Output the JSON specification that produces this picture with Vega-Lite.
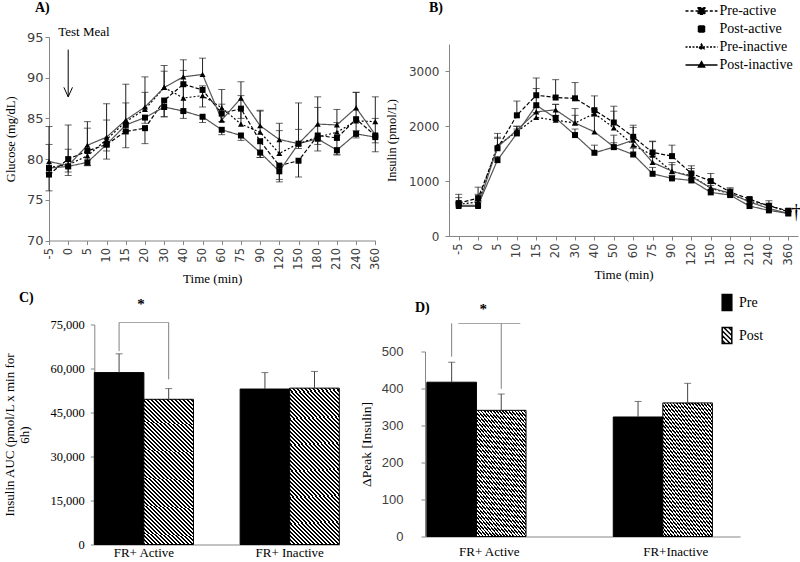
{
"$schema": "https://vega.github.io/schema/vega-lite/v6.json",
"padding": {"left": 3, "top": 0, "right": 0, "bottom": 0},
"background": "white",
"config": {
  "view": {"stroke": null},
  "font": "Liberation Serif",
  "axis": {"grid": false, "domainColor": "#868686", "tickColor": "#868686", "labelColor": "#404040", "titleColor": "#000", "titleFontWeight": "normal", "titleFont": "Liberation Serif", "tickSize": 4, "labelOverlap": false},
  "title": {"font": "Liberation Serif", "fontSize": 14, "fontWeight": "bold", "anchor": "start", "frame": "group", "color": "#000"}
},
"datasets": {
  "glucose": [
    {"t":-5,"s":"Pre-active","v":78.1,"c":76.1},{"t":0,"s":"Pre-active","v":80.0,"c":78.0},{"t":5,"s":"Pre-active","v":81.0,"c":79.2},{"t":10,"s":"Pre-active","v":81.8,"c":80.0},{"t":15,"s":"Pre-active","v":83.4,"c":81.4},{"t":20,"s":"Pre-active","v":83.8,"c":81.9},{"t":30,"s":"Pre-active","v":87.2,"c":85.2},{"t":40,"s":"Pre-active","v":89.2,"c":85.8},{"t":50,"s":"Pre-active","v":88.5,"c":86.4},{"t":60,"s":"Pre-active","v":85.6,"c":84.6},{"t":75,"s":"Pre-active","v":86.2,"c":85.0},{"t":90,"s":"Pre-active","v":82.2,"c":80.2},{"t":120,"s":"Pre-active","v":79.2,"c":77.2},{"t":150,"s":"Pre-active","v":79.8,"c":77.8},{"t":180,"s":"Pre-active","v":82.9,"c":81.0},{"t":210,"s":"Pre-active","v":82.6,"c":80.6},{"t":240,"s":"Pre-active","v":84.9,"c":83.5},{"t":360,"s":"Pre-active","v":82.9,"c":80.9},
    {"t":-5,"s":"Post-active","v":78.9,"c":78.3},{"t":0,"s":"Post-active","v":79.1,"c":78.4},{"t":5,"s":"Post-active","v":79.6,"c":79.2},{"t":10,"s":"Post-active","v":81.8,"c":81.0},{"t":15,"s":"Post-active","v":84.2,"c":83.4},{"t":20,"s":"Post-active","v":85.1,"c":84.4},{"t":30,"s":"Post-active","v":86.4,"c":85.2},{"t":40,"s":"Post-active","v":85.9,"c":85.0},{"t":50,"s":"Post-active","v":85.2,"c":84.5},{"t":60,"s":"Post-active","v":83.6,"c":83.0},{"t":75,"s":"Post-active","v":82.9,"c":82.3},{"t":90,"s":"Post-active","v":80.8,"c":80.2},{"t":120,"s":"Post-active","v":78.5,"c":77.5},{"t":150,"s":"Post-active","v":81.9,"c":81.3},{"t":180,"s":"Post-active","v":82.5,"c":81.8},{"t":210,"s":"Post-active","v":81.1,"c":80.5},{"t":240,"s":"Post-active","v":83.1,"c":82.6},{"t":360,"s":"Post-active","v":82.7,"c":82.0},
    {"t":-5,"s":"Pre-inactive","v":79.0,"c":81.8},{"t":0,"s":"Pre-inactive","v":79.3,"c":81.2},{"t":5,"s":"Pre-inactive","v":80.4,"c":83.8},{"t":10,"s":"Pre-inactive","v":82.4,"c":84.8},{"t":15,"s":"Pre-inactive","v":84.6,"c":86.9},{"t":20,"s":"Pre-inactive","v":86.1,"c":88.2},{"t":30,"s":"Pre-inactive","v":88.8,"c":90.8},{"t":40,"s":"Pre-inactive","v":87.5,"c":90.9},{"t":50,"s":"Pre-inactive","v":87.8,"c":89.0},{"t":60,"s":"Pre-inactive","v":86.3,"c":88.55},{"t":75,"s":"Pre-inactive","v":84.3,"c":87.8},{"t":90,"s":"Pre-inactive","v":83.3,"c":85.9},{"t":120,"s":"Pre-inactive","v":80.7,"c":83.5},{"t":150,"s":"Pre-inactive","v":81.9,"c":83.65},{"t":180,"s":"Pre-inactive","v":82.7,"c":86.35},{"t":210,"s":"Pre-inactive","v":83.3,"c":84.5},{"t":240,"s":"Pre-inactive","v":84.7,"c":88.2},{"t":360,"s":"Pre-inactive","v":84.6,"c":85.0},
    {"t":-5,"s":"Post-inactive","v":79.7,"c":84.0},{"t":0,"s":"Post-inactive","v":79.2,"c":84.2},{"t":5,"s":"Post-inactive","v":81.7,"c":84.6},{"t":10,"s":"Post-inactive","v":82.7,"c":86.8},{"t":15,"s":"Post-inactive","v":84.8,"c":89.2},{"t":20,"s":"Post-inactive","v":86.4,"c":90.1},{"t":30,"s":"Post-inactive","v":88.8,"c":91.5},{"t":40,"s":"Post-inactive","v":90.1,"c":92.2},{"t":50,"s":"Post-inactive","v":90.4,"c":92.4},{"t":60,"s":"Post-inactive","v":84.8,"c":86.75},{"t":75,"s":"Post-inactive","v":87.5,"c":89.5},{"t":90,"s":"Post-inactive","v":84.1,"c":86.0},{"t":120,"s":"Post-inactive","v":82.4,"c":84.4},{"t":150,"s":"Post-inactive","v":81.9,"c":86.9},{"t":180,"s":"Post-inactive","v":84.3,"c":87.65},{"t":210,"s":"Post-inactive","v":84.2,"c":86.1},{"t":240,"s":"Post-inactive","v":86.3,"c":88.2},{"t":360,"s":"Post-inactive","v":83.0,"c":87.65}
  ],
  "insulin": [
    {"t":-5,"s":"Pre-active","v":600,"c":760},{"t":0,"s":"Pre-active","v":690,"c":890},{"t":5,"s":"Pre-active","v":1600,"c":1870},{"t":10,"s":"Pre-active","v":2200,"c":2460},{"t":15,"s":"Pre-active","v":2566,"c":2880},{"t":20,"s":"Pre-active","v":2524,"c":2850},{"t":30,"s":"Pre-active","v":2510,"c":2797},{"t":40,"s":"Pre-active","v":2293,"c":2554},{"t":50,"s":"Pre-active","v":2069,"c":2366},{"t":60,"s":"Pre-active","v":1808,"c":2020},{"t":75,"s":"Pre-active","v":1523,"c":1729},{"t":90,"s":"Pre-active","v":1456,"c":1656},{"t":120,"s":"Pre-active","v":1140,"c":1280},{"t":150,"s":"Pre-active","v":1001,"c":1140},{"t":180,"s":"Pre-active","v":800,"c":880},{"t":210,"s":"Pre-active","v":673,"c":700},{"t":240,"s":"Pre-active","v":546,"c":643},{"t":360,"s":"Pre-active","v":461,"c":500},
    {"t":-5,"s":"Post-active","v":560,"c":600},{"t":0,"s":"Post-active","v":560,"c":620},{"t":5,"s":"Post-active","v":1383,"c":1450},{"t":10,"s":"Post-active","v":1870,"c":1950},{"t":15,"s":"Post-active","v":2384,"c":2688},{"t":20,"s":"Post-active","v":2150,"c":2400},{"t":30,"s":"Post-active","v":1840,"c":1950},{"t":40,"s":"Post-active","v":1517,"c":1656},{"t":50,"s":"Post-active","v":1620,"c":1838},{"t":60,"s":"Post-active","v":1486,"c":1600},{"t":75,"s":"Post-active","v":1134,"c":1250},{"t":90,"s":"Post-active","v":1050,"c":1100},{"t":120,"s":"Post-active","v":1013,"c":1050},{"t":150,"s":"Post-active","v":795,"c":850},{"t":180,"s":"Post-active","v":746,"c":800},{"t":210,"s":"Post-active","v":546,"c":600},{"t":240,"s":"Post-active","v":467,"c":520},{"t":360,"s":"Post-active","v":410,"c":450},
    {"t":-5,"s":"Pre-inactive","v":580,"c":700},{"t":0,"s":"Pre-inactive","v":620,"c":760},{"t":5,"s":"Pre-inactive","v":1650,"c":1800},{"t":10,"s":"Pre-inactive","v":1900,"c":2000},{"t":15,"s":"Pre-inactive","v":2160,"c":2250},{"t":20,"s":"Pre-inactive","v":2111,"c":2200},{"t":30,"s":"Pre-inactive","v":2060,"c":2200},{"t":40,"s":"Pre-inactive","v":2233,"c":2300},{"t":50,"s":"Pre-inactive","v":1972,"c":2275},{"t":60,"s":"Pre-inactive","v":1656,"c":1980},{"t":75,"s":"Pre-inactive","v":1474,"c":1720},{"t":90,"s":"Pre-inactive","v":1171,"c":1340},{"t":120,"s":"Pre-inactive","v":1100,"c":1230},{"t":150,"s":"Pre-inactive","v":870,"c":960},{"t":180,"s":"Pre-inactive","v":770,"c":860},{"t":210,"s":"Pre-inactive","v":630,"c":680},{"t":240,"s":"Pre-inactive","v":560,"c":600},{"t":360,"s":"Pre-inactive","v":440,"c":480},
    {"t":-5,"s":"Post-inactive","v":540,"c":620},{"t":0,"s":"Post-inactive","v":540,"c":640},{"t":5,"s":"Post-inactive","v":1620,"c":1780},{"t":10,"s":"Post-inactive","v":1930,"c":2000},{"t":15,"s":"Post-inactive","v":2263,"c":2350},{"t":20,"s":"Post-inactive","v":2300,"c":2400},{"t":30,"s":"Post-inactive","v":2060,"c":2323},{"t":40,"s":"Post-inactive","v":1899,"c":2180},{"t":50,"s":"Post-inactive","v":1626,"c":1700},{"t":60,"s":"Post-inactive","v":1747,"c":1800},{"t":75,"s":"Post-inactive","v":1341,"c":1450},{"t":90,"s":"Post-inactive","v":1183,"c":1300},{"t":120,"s":"Post-inactive","v":1080,"c":1150},{"t":150,"s":"Post-inactive","v":880,"c":920},{"t":180,"s":"Post-inactive","v":780,"c":840},{"t":210,"s":"Post-inactive","v":620,"c":660},{"t":240,"s":"Post-inactive","v":500,"c":560},{"t":360,"s":"Post-inactive","v":412,"c":450}
  ],
  "meal": [{"t":0,"top":93.45,"tip":87.65,"lab":"Test Meal","ly":95.1}],
  "dagger": [{"t":360,"y":430,"lab":"†"}],
  "auc": [
    {"g":"FR+ Active","p":"Pre","v":58600,"e":65000},
    {"g":"FR+ Active","p":"Post","v":49500,"e":53150},
    {"g":"FR+ Inactive","p":"Pre","v":53000,"e":58600},
    {"g":"FR+ Inactive","p":"Post","v":53300,"e":59000}
  ],
  "aucsig": [
    {"g":"FR+ Active","p":"Pre","lo":65900,"hi":75700,"sy":80300,"lab":"*"},
    {"g":"FR+ Active","p":"Post","lo":56300,"hi":75700,"sy":80300,"lab":"*"}
  ],
  "peak": [
    {"g":"FR+ Active","p":"Pre","v":417,"e":471},
    {"g":"FR+ Active","p":"Post","v":341,"e":385},
    {"g":"FR+Inactive","p":"Pre","v":323,"e":365},
    {"g":"FR+Inactive","p":"Post","v":361,"e":414}
  ],
  "peaksig": [
    {"g":"FR+ Active","p":"Pre","lo":486,"hi":576,"sy":601,"lab":"*"},
    {"g":"FR+ Active","p":"Post","lo":399,"hi":576,"sy":601,"lab":"*"}
  ]
},
"columns": 2,
"bounds": "flush",
"spacing": {"row": 83.5, "column": 49},
"resolve": {"scale": {"color": "independent", "fill": "independent", "shape": "independent", "strokeDash": "independent", "size": "independent"}},
"concat": [
  {
   "title": {"text": "A)", "dx": -14, "offset": 11},
   "width": 326.3, "height": 203.5,
   "layer": [
    {"data": {"name": "glucose"}, "mark": {"type": "rule", "color": "#222", "strokeWidth": 1},
     "encoding": {
       "x": {"field": "t", "type": "ordinal", "scale": {"type": "point", "padding": 0, "domain": [-5,0,5,10,15,20,30,40,50,60,75,90,120,150,180,210,240,360]},
             "axis": {"title": "Time  (min)", "labelAngle": -90, "labelFont": "DejaVu Sans", "labelFontSize": 11.5, "labelPadding": 3, "titleFontSize": 13, "titlePadding": 3}},
       "y": {"field": "v", "type": "quantitative", "scale": {"domain": [70, 95], "nice": false},
             "axis": {"title": "Glucose  (mg/dL)", "values": [70,75,80,85,90,95], "format": "d", "labelFont": "DejaVu Sans", "labelFontSize": 13, "labelPadding": 2, "titleFontSize": 12.5, "titlePadding": 9}},
       "y2": {"field": "c"}}},
    {"data": {"name": "glucose"}, "mark": {"type": "tick", "color": "#222", "size": 7, "thickness": 1, "orient": "horizontal"},
     "encoding": {"x": {"field": "t", "type": "ordinal"}, "y": {"field": "c", "type": "quantitative", "scale": {"domain": [70, 95], "nice": false}}}},
    {"data": {"name": "glucose"}, "mark": {"type": "line", "strokeWidth": 1.2},
     "encoding": {"x": {"field": "t", "type": "ordinal"}, "y": {"field": "v", "type": "quantitative", "scale": {"domain": [70, 95], "nice": false}},
       "color": {"field": "s", "type": "nominal", "scale": {"domain": ["Pre-active","Post-active","Pre-inactive","Post-inactive"], "range": ["#000","#555","#000","#555"]}, "legend": null},
       "strokeDash": {"field": "s", "type": "nominal", "scale": {"domain": ["Pre-active","Post-active","Pre-inactive","Post-inactive"], "range": [[4,2],[1,0],[2,2],[1,0]]}, "legend": null}}},
    {"data": {"name": "glucose"}, "mark": {"type": "point", "filled": true, "color": "#000", "opacity": 1},
     "encoding": {"x": {"field": "t", "type": "ordinal"}, "y": {"field": "v", "type": "quantitative", "scale": {"domain": [70, 95], "nice": false}},
       "shape": {"field": "s", "type": "nominal", "scale": {"domain": ["Pre-active","Post-active","Pre-inactive","Post-inactive"], "range": ["square","square","triangle-up","triangle-up"]}, "legend": null},
       "size": {"field": "s", "type": "nominal", "scale": {"domain": ["Pre-active","Post-active","Pre-inactive","Post-inactive"], "range": [36,36,16,30]}, "legend": null}}},
    {"data": {"name": "meal"}, "mark": {"type": "rule", "color": "#000", "strokeWidth": 1},
     "encoding": {"x": {"field": "t", "type": "ordinal"}, "y": {"field": "top", "type": "quantitative", "scale": {"domain": [70, 95], "nice": false}}, "y2": {"field": "tip"}}},
    {"data": {"name": "meal"}, "mark": {"type": "point", "shape": "M-1,-2.2L0,0L1,-2.2", "size": 74, "filled": false, "stroke": "#000", "strokeWidth": 1, "opacity": 1},
     "encoding": {"x": {"field": "t", "type": "ordinal"}, "y": {"field": "tip", "type": "quantitative", "scale": {"domain": [70, 95], "nice": false}}}},
    {"data": {"name": "meal"}, "mark": {"type": "text", "align": "left", "baseline": "alphabetic", "dx": -10, "fontSize": 13, "font": "Liberation Serif", "color": "#000"},
     "encoding": {"x": {"field": "t", "type": "ordinal"}, "y": {"field": "ly", "type": "quantitative", "scale": {"domain": [70, 95], "nice": false}}, "text": {"field": "lab"}}}
   ]
  },
  {
   "title": {"text": "B)", "dx": 4, "offset": -15},
   "width": 373, "height": 199,
   "layer": [
    {"data": {"name": "insulin"}, "mark": {"type": "rule", "color": "#222", "strokeWidth": 1},
     "encoding": {
       "x": {"field": "t", "type": "ordinal", "scale": {"type": "point", "padding": 0.5, "rangeMin": 24, "domain": [-5,0,5,10,15,20,30,40,50,60,75,90,120,150,180,210,240,360]},
             "axis": {"title": "Time  (min)", "labelAngle": -90, "labelFont": "DejaVu Sans", "labelFontSize": 11.5, "labelPadding": 3, "titleFontSize": 13, "titlePadding": 4}},
       "y": {"field": "v", "type": "quantitative", "scale": {"domain": [0, 3500], "nice": false, "rangeMax": 7},
             "axis": {"title": "Insulin  (pmol/L)", "offset": -24, "values": [0,500,1000,1500,2000,2500,3000,3500], "format": "d", "labelFont": "DejaVu Sans", "labelFontSize": 12, "labelPadding": 6, "titleFontSize": 12.5, "titlePadding": 10}},
       "y2": {"field": "c"}}},
    {"data": {"name": "insulin"}, "mark": {"type": "tick", "color": "#222", "size": 7, "thickness": 1, "orient": "horizontal"},
     "encoding": {"x": {"field": "t", "type": "ordinal"}, "y": {"field": "c", "type": "quantitative", "scale": {"domain": [0, 3500], "nice": false}}}},
    {"data": {"name": "insulin"}, "mark": {"type": "line", "strokeWidth": 1.2},
     "encoding": {"x": {"field": "t", "type": "ordinal"}, "y": {"field": "v", "type": "quantitative", "scale": {"domain": [0, 3500], "nice": false}},
       "color": {"field": "s", "type": "nominal", "scale": {"domain": ["Pre-active","Post-active","Pre-inactive","Post-inactive"], "range": ["#000","#555","#000","#555"]}, "legend": null},
       "strokeDash": {"field": "s", "type": "nominal", "scale": {"domain": ["Pre-active","Post-active","Pre-inactive","Post-inactive"], "range": [[4,2],[1,0],[2,2],[1,0]]}, "legend": null}}},
    {"data": {"name": "insulin"}, "mark": {"type": "point", "filled": true, "color": "#000", "opacity": 1},
     "encoding": {"x": {"field": "t", "type": "ordinal"}, "y": {"field": "v", "type": "quantitative", "scale": {"domain": [0, 3500], "nice": false}},
       "shape": {"field": "s", "type": "nominal", "scale": {"domain": ["Pre-active","Post-active","Pre-inactive","Post-inactive"], "range": ["square","square","triangle-up","triangle-up"]}, "legend": null},
       "size": {"field": "s", "type": "nominal", "scale": {"domain": ["Pre-active","Post-active","Pre-inactive","Post-inactive"], "range": [36,36,16,30]}, "legend": null}}},
    {"data": {"name": "insulin"}, "transform": [{"filter": "false"}],
     "mark": {"type": "point", "filled": true, "fill": "#000", "stroke": "#000", "strokeWidth": 1, "size": 400, "opacity": 1},
     "encoding": {
       "shape": {"field": "s", "type": "nominal", "scale": {"domain": ["Pre-active","Post-active","Pre-inactive","Post-inactive"], "range": ["M-1.6,0H-0.33M0.33,0H1.6M-0.33,-0.33H0.33V0.33H-0.33Z", "M-0.3,-0.3H0.3V0.3H-0.3Z", "M-1.6,0H1.6M0,-0.28L0.25,0.17H-0.25Z", "M-1.6,0H1.6M0,-0.32L0.3,0.2H-0.3Z"]},
         "legend": {"orient": "none", "legendX": 265.5, "legendY": -37, "title": null, "padding": 0, "rowPadding": 0, "symbolSize": 400, "labelOffset": 7, "labelFont": "Liberation Serif", "labelFontSize": 14, "labelColor": "#000",
           "encode": {"symbols": {"update": {"fill": {"value": "#000"}, "stroke": {"value": "#000"}, "strokeWidth": {"value": 1}, "opacity": {"value": 1}}}}}},
       "strokeDash": {"field": "s", "type": "nominal", "scale": {"domain": ["Pre-active","Post-active","Pre-inactive","Post-inactive"], "range": [[3,2],[1,0],[2,1.5],[1,0]]},
         "legend": {"orient": "none", "legendX": 265.5, "legendY": -37, "title": null, "padding": 0, "rowPadding": 0, "symbolSize": 400, "labelOffset": 7, "labelFont": "Liberation Serif", "labelFontSize": 14, "labelColor": "#000"}}}},
    {"data": {"name": "dagger"}, "mark": {"type": "text", "dx": 8, "baseline": "middle", "fontSize": 20, "font": "Liberation Serif", "color": "#000"},
     "encoding": {"x": {"field": "t", "type": "ordinal"}, "y": {"field": "y", "type": "quantitative", "scale": {"domain": [0, 3500], "nice": false}}, "text": {"field": "lab"}}}
   ],
   "resolve": {"scale": {"shape": "independent", "strokeDash": "independent"}}
  },
  {
   "title": {"text": "C)", "dx": -30, "offset": -8},
   "width": 290.3, "height": 220,
   "layer": [
    {"data": {"name": "auc"}, "transform": [{"filter": "datum.p == 'Pre'"}],
     "mark": {"type": "bar", "fill": "#000", "stroke": "#000", "strokeWidth": 1},
     "encoding": {
       "x": {"field": "g", "type": "nominal", "scale": {"domain": ["FR+ Active","FR+ Inactive"], "paddingInner": 0.32, "paddingOuter": 0, "rangeMin": 45.3},
             "axis": {"title": null, "labelAngle": 0, "ticks": false, "labelFont": "Liberation Serif", "labelFontSize": 13, "labelColor": "#000", "labelPadding": 2}},
       "xOffset": {"field": "p", "type": "nominal", "scale": {"domain": ["Pre","Post"], "paddingInner": 0, "paddingOuter": 0}},
       "y": {"field": "v", "type": "quantitative", "scale": {"domain": [0, 75000], "nice": false},
             "axis": {"title": ["Insulin  AUC (pmol/L  x min for", "6h)"], "offset": -45.3, "values": [0,15000,30000,45000,60000,75000], "format": ",.0f", "labelFont": "Liberation Serif", "labelFontSize": 12.5, "labelColor": "#000", "labelPadding": 6, "titleFontSize": 13, "titleLineHeight": 15, "titlePadding": 18}}}},
    {"data": {"name": "auc"}, "transform": [{"filter": "datum.p == 'Post'"}],
     "mark": {"type": "bar", "stroke": "#000", "strokeWidth": 1, "fill": {"gradient": "linear", "x1": 0, "y1": 1, "x2": 0.396, "y2": -0.199, "stops": [
{"offset":0,"color":"#000"},{"offset":0.01,"color":"#000"},{"offset":0.01,"color":"#fff"},{"offset":0.02,"color":"#fff"},{"offset":0.02,"color":"#000"},{"offset":0.03,"color":"#000"},{"offset":0.03,"color":"#fff"},{"offset":0.04,"color":"#fff"},{"offset":0.04,"color":"#000"},{"offset":0.05,"color":"#000"},{"offset":0.05,"color":"#fff"},{"offset":0.06,"color":"#fff"},{"offset":0.06,"color":"#000"},{"offset":0.07,"color":"#000"},{"offset":0.07,"color":"#fff"},{"offset":0.08,"color":"#fff"},{"offset":0.08,"color":"#000"},{"offset":0.09,"color":"#000"},{"offset":0.09,"color":"#fff"},{"offset":0.1,"color":"#fff"},
{"offset":0.1,"color":"#000"},{"offset":0.11,"color":"#000"},{"offset":0.11,"color":"#fff"},{"offset":0.12,"color":"#fff"},{"offset":0.12,"color":"#000"},{"offset":0.13,"color":"#000"},{"offset":0.13,"color":"#fff"},{"offset":0.14,"color":"#fff"},{"offset":0.14,"color":"#000"},{"offset":0.15,"color":"#000"},{"offset":0.15,"color":"#fff"},{"offset":0.16,"color":"#fff"},{"offset":0.16,"color":"#000"},{"offset":0.17,"color":"#000"},{"offset":0.17,"color":"#fff"},{"offset":0.18,"color":"#fff"},{"offset":0.18,"color":"#000"},{"offset":0.19,"color":"#000"},{"offset":0.19,"color":"#fff"},{"offset":0.2,"color":"#fff"},
{"offset":0.2,"color":"#000"},{"offset":0.21,"color":"#000"},{"offset":0.21,"color":"#fff"},{"offset":0.22,"color":"#fff"},{"offset":0.22,"color":"#000"},{"offset":0.23,"color":"#000"},{"offset":0.23,"color":"#fff"},{"offset":0.24,"color":"#fff"},{"offset":0.24,"color":"#000"},{"offset":0.25,"color":"#000"},{"offset":0.25,"color":"#fff"},{"offset":0.26,"color":"#fff"},{"offset":0.26,"color":"#000"},{"offset":0.27,"color":"#000"},{"offset":0.27,"color":"#fff"},{"offset":0.28,"color":"#fff"},{"offset":0.28,"color":"#000"},{"offset":0.29,"color":"#000"},{"offset":0.29,"color":"#fff"},{"offset":0.3,"color":"#fff"},
{"offset":0.3,"color":"#000"},{"offset":0.31,"color":"#000"},{"offset":0.31,"color":"#fff"},{"offset":0.32,"color":"#fff"},{"offset":0.32,"color":"#000"},{"offset":0.33,"color":"#000"},{"offset":0.33,"color":"#fff"},{"offset":0.34,"color":"#fff"},{"offset":0.34,"color":"#000"},{"offset":0.35,"color":"#000"},{"offset":0.35,"color":"#fff"},{"offset":0.36,"color":"#fff"},{"offset":0.36,"color":"#000"},{"offset":0.37,"color":"#000"},{"offset":0.37,"color":"#fff"},{"offset":0.38,"color":"#fff"},{"offset":0.38,"color":"#000"},{"offset":0.39,"color":"#000"},{"offset":0.39,"color":"#fff"},{"offset":0.4,"color":"#fff"},
{"offset":0.4,"color":"#000"},{"offset":0.41,"color":"#000"},{"offset":0.41,"color":"#fff"},{"offset":0.42,"color":"#fff"},{"offset":0.42,"color":"#000"},{"offset":0.43,"color":"#000"},{"offset":0.43,"color":"#fff"},{"offset":0.44,"color":"#fff"},{"offset":0.44,"color":"#000"},{"offset":0.45,"color":"#000"},{"offset":0.45,"color":"#fff"},{"offset":0.46,"color":"#fff"},{"offset":0.46,"color":"#000"},{"offset":0.47,"color":"#000"},{"offset":0.47,"color":"#fff"},{"offset":0.48,"color":"#fff"},{"offset":0.48,"color":"#000"},{"offset":0.49,"color":"#000"},{"offset":0.49,"color":"#fff"},{"offset":0.5,"color":"#fff"},
{"offset":0.5,"color":"#000"},{"offset":0.51,"color":"#000"},{"offset":0.51,"color":"#fff"},{"offset":0.52,"color":"#fff"},{"offset":0.52,"color":"#000"},{"offset":0.53,"color":"#000"},{"offset":0.53,"color":"#fff"},{"offset":0.54,"color":"#fff"},{"offset":0.54,"color":"#000"},{"offset":0.55,"color":"#000"},{"offset":0.55,"color":"#fff"},{"offset":0.56,"color":"#fff"},{"offset":0.56,"color":"#000"},{"offset":0.57,"color":"#000"},{"offset":0.57,"color":"#fff"},{"offset":0.58,"color":"#fff"},{"offset":0.58,"color":"#000"},{"offset":0.59,"color":"#000"},{"offset":0.59,"color":"#fff"},{"offset":0.6,"color":"#fff"},
{"offset":0.6,"color":"#000"},{"offset":0.61,"color":"#000"},{"offset":0.61,"color":"#fff"},{"offset":0.62,"color":"#fff"},{"offset":0.62,"color":"#000"},{"offset":0.63,"color":"#000"},{"offset":0.63,"color":"#fff"},{"offset":0.64,"color":"#fff"},{"offset":0.64,"color":"#000"},{"offset":0.65,"color":"#000"},{"offset":0.65,"color":"#fff"},{"offset":0.66,"color":"#fff"},{"offset":0.66,"color":"#000"},{"offset":0.67,"color":"#000"},{"offset":0.67,"color":"#fff"},{"offset":0.68,"color":"#fff"},{"offset":0.68,"color":"#000"},{"offset":0.69,"color":"#000"},{"offset":0.69,"color":"#fff"},{"offset":0.7,"color":"#fff"},
{"offset":0.7,"color":"#000"},{"offset":0.71,"color":"#000"},{"offset":0.71,"color":"#fff"},{"offset":0.72,"color":"#fff"},{"offset":0.72,"color":"#000"},{"offset":0.73,"color":"#000"},{"offset":0.73,"color":"#fff"},{"offset":0.74,"color":"#fff"},{"offset":0.74,"color":"#000"},{"offset":0.75,"color":"#000"},{"offset":0.75,"color":"#fff"},{"offset":0.76,"color":"#fff"},{"offset":0.76,"color":"#000"},{"offset":0.77,"color":"#000"},{"offset":0.77,"color":"#fff"},{"offset":0.78,"color":"#fff"},{"offset":0.78,"color":"#000"},{"offset":0.79,"color":"#000"},{"offset":0.79,"color":"#fff"},{"offset":0.8,"color":"#fff"},
{"offset":0.8,"color":"#000"},{"offset":0.81,"color":"#000"},{"offset":0.81,"color":"#fff"},{"offset":0.82,"color":"#fff"},{"offset":0.82,"color":"#000"},{"offset":0.83,"color":"#000"},{"offset":0.83,"color":"#fff"},{"offset":0.84,"color":"#fff"},{"offset":0.84,"color":"#000"},{"offset":0.85,"color":"#000"},{"offset":0.85,"color":"#fff"},{"offset":0.86,"color":"#fff"},{"offset":0.86,"color":"#000"},{"offset":0.87,"color":"#000"},{"offset":0.87,"color":"#fff"},{"offset":0.88,"color":"#fff"},{"offset":0.88,"color":"#000"},{"offset":0.89,"color":"#000"},{"offset":0.89,"color":"#fff"},{"offset":0.9,"color":"#fff"},
{"offset":0.9,"color":"#000"},{"offset":0.91,"color":"#000"},{"offset":0.91,"color":"#fff"},{"offset":0.92,"color":"#fff"},{"offset":0.92,"color":"#000"},{"offset":0.93,"color":"#000"},{"offset":0.93,"color":"#fff"},{"offset":0.94,"color":"#fff"},{"offset":0.94,"color":"#000"},{"offset":0.95,"color":"#000"},{"offset":0.95,"color":"#fff"},{"offset":0.96,"color":"#fff"},{"offset":0.96,"color":"#000"},{"offset":0.97,"color":"#000"},{"offset":0.97,"color":"#fff"},{"offset":0.98,"color":"#fff"},{"offset":0.98,"color":"#000"},{"offset":0.99,"color":"#000"},{"offset":0.99,"color":"#fff"},{"offset":1,"color":"#fff"}
     ]}},
     "encoding": {
       "x": {"field": "g", "type": "nominal"},
       "xOffset": {"field": "p", "type": "nominal", "scale": {"domain": ["Pre","Post"]}},
       "y": {"field": "v", "type": "quantitative", "scale": {"domain": [0, 75000], "nice": false}}}},
    {"data": {"name": "auc"}, "mark": {"type": "rule", "color": "#444", "strokeWidth": 1},
     "encoding": {"x": {"field": "g", "type": "nominal"}, "xOffset": {"field": "p", "type": "nominal", "scale": {"domain": ["Pre","Post"]}}, "y": {"field": "v", "type": "quantitative", "scale": {"domain": [0, 75000], "nice": false}}, "y2": {"field": "e"}}},
    {"data": {"name": "auc"}, "mark": {"type": "tick", "color": "#444", "size": 7, "thickness": 1, "orient": "horizontal"},
     "encoding": {"x": {"field": "g", "type": "nominal"}, "xOffset": {"field": "p", "type": "nominal", "scale": {"domain": ["Pre","Post"]}}, "y": {"field": "e", "type": "quantitative", "scale": {"domain": [0, 75000], "nice": false}}}},
    {"data": {"name": "aucsig"}, "mark": {"type": "rule", "color": "#808080", "strokeWidth": 1},
     "encoding": {"x": {"field": "g", "type": "nominal"}, "xOffset": {"field": "p", "type": "nominal", "scale": {"domain": ["Pre","Post"]}}, "y": {"field": "lo", "type": "quantitative", "scale": {"domain": [0, 75000], "nice": false}}, "y2": {"field": "hi"}}},
    {"data": {"name": "aucsig"}, "transform": [{"filter": "datum.p == 'Pre'"}], "mark": {"type": "tick", "color": "#808080", "size": 49.6, "thickness": 1, "orient": "horizontal"},
     "encoding": {"x": {"field": "g", "type": "nominal"}, "y": {"field": "hi", "type": "quantitative", "scale": {"domain": [0, 75000], "nice": false}}}},
    {"data": {"name": "aucsig"}, "transform": [{"filter": "datum.p == 'Pre'"}], "mark": {"type": "text", "baseline": "alphabetic", "fontSize": 15, "fontWeight": "bold", "font": "Liberation Serif", "color": "#000", "dx": -3},
     "encoding": {"x": {"field": "g", "type": "nominal"}, "y": {"field": "sy", "type": "quantitative", "scale": {"domain": [0, 75000], "nice": false}}, "text": {"field": "lab"}}}
   ]
  },
  {
   "title": {"text": "D)", "dx": -10, "offset": -21},
   "width": 315, "height": 212,
   "layer": [
    {"data": {"name": "peak"}, "transform": [{"filter": "datum.p == 'Pre'"}],
     "mark": {"type": "bar", "fill": "#000", "stroke": "#000", "strokeWidth": 1},
     "encoding": {
       "x": {"field": "g", "type": "nominal", "scale": {"domain": ["FR+ Active","FR+Inactive"], "paddingInner": 0.33, "paddingOuter": 0.01},
             "axis": {"title": null, "labelAngle": 0, "ticks": false, "labelFont": "Liberation Serif", "labelFontSize": 13, "labelColor": "#000", "labelPadding": 9}},
       "xOffset": {"field": "p", "type": "nominal", "scale": {"domain": ["Pre","Post"], "paddingInner": 0, "paddingOuter": 0}},
       "y": {"field": "v", "type": "quantitative", "scale": {"domain": [0, 500], "nice": false, "rangeMax": 27},
             "axis": {"title": "ΔPeak [Insulin]", "values": [0,100,200,300,400,500], "format": "d", "labelFont": "Liberation Sans", "labelFontSize": 13, "labelPadding": 18, "titleFontSize": 13.5, "titlePadding": 8}}}},
    {"data": {"name": "peak"}, "transform": [{"filter": "datum.p == 'Post'"}],
     "mark": {"type": "bar", "stroke": "#000", "strokeWidth": 1, "fill": {"gradient": "linear", "x1": 0, "y1": 1, "x2": 0.574, "y2": -0.203, "stops": [
{"offset":0,"color":"#000"},{"offset":0.01,"color":"#000"},{"offset":0.01,"color":"#fff"},{"offset":0.02,"color":"#fff"},{"offset":0.02,"color":"#000"},{"offset":0.03,"color":"#000"},{"offset":0.03,"color":"#fff"},{"offset":0.04,"color":"#fff"},{"offset":0.04,"color":"#000"},{"offset":0.05,"color":"#000"},{"offset":0.05,"color":"#fff"},{"offset":0.06,"color":"#fff"},{"offset":0.06,"color":"#000"},{"offset":0.07,"color":"#000"},{"offset":0.07,"color":"#fff"},{"offset":0.08,"color":"#fff"},{"offset":0.08,"color":"#000"},{"offset":0.09,"color":"#000"},{"offset":0.09,"color":"#fff"},{"offset":0.1,"color":"#fff"},
{"offset":0.1,"color":"#000"},{"offset":0.11,"color":"#000"},{"offset":0.11,"color":"#fff"},{"offset":0.12,"color":"#fff"},{"offset":0.12,"color":"#000"},{"offset":0.13,"color":"#000"},{"offset":0.13,"color":"#fff"},{"offset":0.14,"color":"#fff"},{"offset":0.14,"color":"#000"},{"offset":0.15,"color":"#000"},{"offset":0.15,"color":"#fff"},{"offset":0.16,"color":"#fff"},{"offset":0.16,"color":"#000"},{"offset":0.17,"color":"#000"},{"offset":0.17,"color":"#fff"},{"offset":0.18,"color":"#fff"},{"offset":0.18,"color":"#000"},{"offset":0.19,"color":"#000"},{"offset":0.19,"color":"#fff"},{"offset":0.2,"color":"#fff"},
{"offset":0.2,"color":"#000"},{"offset":0.21,"color":"#000"},{"offset":0.21,"color":"#fff"},{"offset":0.22,"color":"#fff"},{"offset":0.22,"color":"#000"},{"offset":0.23,"color":"#000"},{"offset":0.23,"color":"#fff"},{"offset":0.24,"color":"#fff"},{"offset":0.24,"color":"#000"},{"offset":0.25,"color":"#000"},{"offset":0.25,"color":"#fff"},{"offset":0.26,"color":"#fff"},{"offset":0.26,"color":"#000"},{"offset":0.27,"color":"#000"},{"offset":0.27,"color":"#fff"},{"offset":0.28,"color":"#fff"},{"offset":0.28,"color":"#000"},{"offset":0.29,"color":"#000"},{"offset":0.29,"color":"#fff"},{"offset":0.3,"color":"#fff"},
{"offset":0.3,"color":"#000"},{"offset":0.31,"color":"#000"},{"offset":0.31,"color":"#fff"},{"offset":0.32,"color":"#fff"},{"offset":0.32,"color":"#000"},{"offset":0.33,"color":"#000"},{"offset":0.33,"color":"#fff"},{"offset":0.34,"color":"#fff"},{"offset":0.34,"color":"#000"},{"offset":0.35,"color":"#000"},{"offset":0.35,"color":"#fff"},{"offset":0.36,"color":"#fff"},{"offset":0.36,"color":"#000"},{"offset":0.37,"color":"#000"},{"offset":0.37,"color":"#fff"},{"offset":0.38,"color":"#fff"},{"offset":0.38,"color":"#000"},{"offset":0.39,"color":"#000"},{"offset":0.39,"color":"#fff"},{"offset":0.4,"color":"#fff"},
{"offset":0.4,"color":"#000"},{"offset":0.41,"color":"#000"},{"offset":0.41,"color":"#fff"},{"offset":0.42,"color":"#fff"},{"offset":0.42,"color":"#000"},{"offset":0.43,"color":"#000"},{"offset":0.43,"color":"#fff"},{"offset":0.44,"color":"#fff"},{"offset":0.44,"color":"#000"},{"offset":0.45,"color":"#000"},{"offset":0.45,"color":"#fff"},{"offset":0.46,"color":"#fff"},{"offset":0.46,"color":"#000"},{"offset":0.47,"color":"#000"},{"offset":0.47,"color":"#fff"},{"offset":0.48,"color":"#fff"},{"offset":0.48,"color":"#000"},{"offset":0.49,"color":"#000"},{"offset":0.49,"color":"#fff"},{"offset":0.5,"color":"#fff"},
{"offset":0.5,"color":"#000"},{"offset":0.51,"color":"#000"},{"offset":0.51,"color":"#fff"},{"offset":0.52,"color":"#fff"},{"offset":0.52,"color":"#000"},{"offset":0.53,"color":"#000"},{"offset":0.53,"color":"#fff"},{"offset":0.54,"color":"#fff"},{"offset":0.54,"color":"#000"},{"offset":0.55,"color":"#000"},{"offset":0.55,"color":"#fff"},{"offset":0.56,"color":"#fff"},{"offset":0.56,"color":"#000"},{"offset":0.57,"color":"#000"},{"offset":0.57,"color":"#fff"},{"offset":0.58,"color":"#fff"},{"offset":0.58,"color":"#000"},{"offset":0.59,"color":"#000"},{"offset":0.59,"color":"#fff"},{"offset":0.6,"color":"#fff"},
{"offset":0.6,"color":"#000"},{"offset":0.61,"color":"#000"},{"offset":0.61,"color":"#fff"},{"offset":0.62,"color":"#fff"},{"offset":0.62,"color":"#000"},{"offset":0.63,"color":"#000"},{"offset":0.63,"color":"#fff"},{"offset":0.64,"color":"#fff"},{"offset":0.64,"color":"#000"},{"offset":0.65,"color":"#000"},{"offset":0.65,"color":"#fff"},{"offset":0.66,"color":"#fff"},{"offset":0.66,"color":"#000"},{"offset":0.67,"color":"#000"},{"offset":0.67,"color":"#fff"},{"offset":0.68,"color":"#fff"},{"offset":0.68,"color":"#000"},{"offset":0.69,"color":"#000"},{"offset":0.69,"color":"#fff"},{"offset":0.7,"color":"#fff"},
{"offset":0.7,"color":"#000"},{"offset":0.71,"color":"#000"},{"offset":0.71,"color":"#fff"},{"offset":0.72,"color":"#fff"},{"offset":0.72,"color":"#000"},{"offset":0.73,"color":"#000"},{"offset":0.73,"color":"#fff"},{"offset":0.74,"color":"#fff"},{"offset":0.74,"color":"#000"},{"offset":0.75,"color":"#000"},{"offset":0.75,"color":"#fff"},{"offset":0.76,"color":"#fff"},{"offset":0.76,"color":"#000"},{"offset":0.77,"color":"#000"},{"offset":0.77,"color":"#fff"},{"offset":0.78,"color":"#fff"},{"offset":0.78,"color":"#000"},{"offset":0.79,"color":"#000"},{"offset":0.79,"color":"#fff"},{"offset":0.8,"color":"#fff"},
{"offset":0.8,"color":"#000"},{"offset":0.81,"color":"#000"},{"offset":0.81,"color":"#fff"},{"offset":0.82,"color":"#fff"},{"offset":0.82,"color":"#000"},{"offset":0.83,"color":"#000"},{"offset":0.83,"color":"#fff"},{"offset":0.84,"color":"#fff"},{"offset":0.84,"color":"#000"},{"offset":0.85,"color":"#000"},{"offset":0.85,"color":"#fff"},{"offset":0.86,"color":"#fff"},{"offset":0.86,"color":"#000"},{"offset":0.87,"color":"#000"},{"offset":0.87,"color":"#fff"},{"offset":0.88,"color":"#fff"},{"offset":0.88,"color":"#000"},{"offset":0.89,"color":"#000"},{"offset":0.89,"color":"#fff"},{"offset":0.9,"color":"#fff"},
{"offset":0.9,"color":"#000"},{"offset":0.91,"color":"#000"},{"offset":0.91,"color":"#fff"},{"offset":0.92,"color":"#fff"},{"offset":0.92,"color":"#000"},{"offset":0.93,"color":"#000"},{"offset":0.93,"color":"#fff"},{"offset":0.94,"color":"#fff"},{"offset":0.94,"color":"#000"},{"offset":0.95,"color":"#000"},{"offset":0.95,"color":"#fff"},{"offset":0.96,"color":"#fff"},{"offset":0.96,"color":"#000"},{"offset":0.97,"color":"#000"},{"offset":0.97,"color":"#fff"},{"offset":0.98,"color":"#fff"},{"offset":0.98,"color":"#000"},{"offset":0.99,"color":"#000"},{"offset":0.99,"color":"#fff"},{"offset":1,"color":"#fff"}
     ]}},
     "encoding": {
       "x": {"field": "g", "type": "nominal"},
       "xOffset": {"field": "p", "type": "nominal", "scale": {"domain": ["Pre","Post"]}},
       "y": {"field": "v", "type": "quantitative", "scale": {"domain": [0, 500], "nice": false}}}},
    {"data": {"name": "peak"}, "mark": {"type": "rule", "color": "#444", "strokeWidth": 1},
     "encoding": {"x": {"field": "g", "type": "nominal"}, "xOffset": {"field": "p", "type": "nominal", "scale": {"domain": ["Pre","Post"]}}, "y": {"field": "v", "type": "quantitative", "scale": {"domain": [0, 500], "nice": false}}, "y2": {"field": "e"}}},
    {"data": {"name": "peak"}, "mark": {"type": "tick", "color": "#444", "size": 7, "thickness": 1, "orient": "horizontal"},
     "encoding": {"x": {"field": "g", "type": "nominal"}, "xOffset": {"field": "p", "type": "nominal", "scale": {"domain": ["Pre","Post"]}}, "y": {"field": "e", "type": "quantitative", "scale": {"domain": [0, 500], "nice": false}}}},
    {"data": {"name": "peaksig"}, "mark": {"type": "rule", "color": "#808080", "strokeWidth": 1},
     "encoding": {"x": {"field": "g", "type": "nominal"}, "xOffset": {"field": "p", "type": "nominal", "scale": {"domain": ["Pre","Post"]}}, "y": {"field": "lo", "type": "quantitative", "scale": {"domain": [0, 500], "nice": false}}, "y2": {"field": "hi"}}},
    {"data": {"name": "peaksig"}, "transform": [{"filter": "datum.p == 'Pre'"}], "mark": {"type": "tick", "color": "#808080", "size": 62, "thickness": 1, "orient": "horizontal"},
     "encoding": {"x": {"field": "g", "type": "nominal"}, "y": {"field": "hi", "type": "quantitative", "scale": {"domain": [0, 500], "nice": false}}}},
    {"data": {"name": "peaksig"}, "transform": [{"filter": "datum.p == 'Pre'"}], "mark": {"type": "text", "baseline": "alphabetic", "fontSize": 15, "fontWeight": "bold", "font": "Liberation Serif", "color": "#000", "dx": -6},
     "encoding": {"x": {"field": "g", "type": "nominal"}, "y": {"field": "sy", "type": "quantitative", "scale": {"domain": [0, 500], "nice": false}}, "text": {"field": "lab"}}},
    {"data": {"name": "peak"}, "transform": [{"filter": "false"}],
     "mark": {"type": "point", "filled": true, "stroke": "#000", "strokeWidth": 1.3, "size": 256, "opacity": 1},
     "encoding": {
       "shape": {"field": "p", "type": "nominal", "scale": {"domain": ["Pre","Post"], "range": ["M-0.6,-1H0.6V1H-0.6Z", "M-0.6,-1H0.6V1H-0.6Z M-0.6,-0.6L0.6,0.6 M-0.4,-1L0.6,0 M0.2,-1L0.6,-0.6 M-0.6,0L0.4,1 M-0.6,0.6L-0.2,1"]},
         "legend": {"orient": "none", "legendX": 293, "legendY": -31, "title": null, "padding": 0, "rowPadding": 11, "symbolSize": 256, "labelOffset": 3, "labelFont": "Liberation Serif", "labelFontSize": 14, "labelColor": "#000",
           "encode": {"symbols": {"update": {"stroke": {"value": "#000"}, "strokeWidth": {"value": 1.3}, "opacity": {"value": 1}}}}}},
       "fill": {"field": "p", "type": "nominal", "scale": {"domain": ["Pre","Post"], "range": ["#000","#fff"]},
         "legend": {"orient": "none", "legendX": 293, "legendY": -31, "title": null, "padding": 0, "rowPadding": 11, "symbolSize": 256, "labelOffset": 3, "labelFont": "Liberation Serif", "labelFontSize": 14, "labelColor": "#000"}}}}
   ]
  }
]
}
